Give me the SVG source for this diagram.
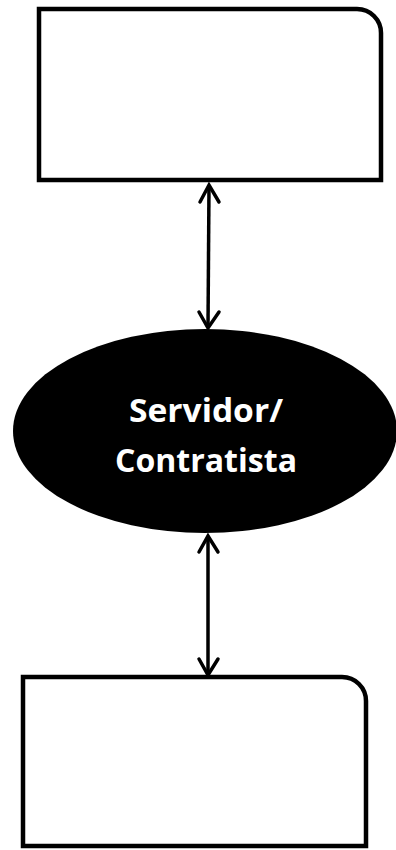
<svg xmlns="http://www.w3.org/2000/svg" width="396" height="850" viewBox="0 0 396 850">
<style>
.box{fill:#ffffff;stroke:#000;stroke-width:4.5}
.conn{stroke:#000;stroke-width:3.5;fill:none}
.head{stroke:#000;stroke-width:3.5;fill:none;stroke-linecap:round;stroke-linejoin:miter}
.lbl{font-family:"Open Sans","Noto Sans",sans-serif;font-weight:bold;font-size:32px;fill:#fff;text-anchor:middle}
</style>
<rect width="396" height="850" fill="#fff"/>
<g id="top-box">
<path class="box" d="M39 9 H357 A24 24 0 0 1 381 33 V180 H39 Z"/>
</g>
<g id="server">
<ellipse cx="205" cy="431" rx="192" ry="102" fill="#000"/>
<text class="lbl" x="206" y="422" textLength="154" lengthAdjust="spacingAndGlyphs">Servidor/</text>
<text class="lbl" x="206" y="472" textLength="182" lengthAdjust="spacingAndGlyphs">Contratista</text>
</g>
<g id="bottom-box">
<path class="box" d="M23 677 H342 A24 24 0 0 1 366 701 V846 H23 Z"/>
</g>
<g id="connectors">
<line class="conn" x1="209" y1="186" x2="208" y2="327"/>
<polyline class="head" points="200,202 209,185 219,202"/>
<polyline class="head" points="199,312 208,328 219,312"/>
<line class="conn" x1="208" y1="537" x2="208" y2="673"/>
<polyline class="head" points="199,552 208,536 218,552"/>
<polyline class="head" points="199,659 208,675 218,659"/>
</g>
</svg>
